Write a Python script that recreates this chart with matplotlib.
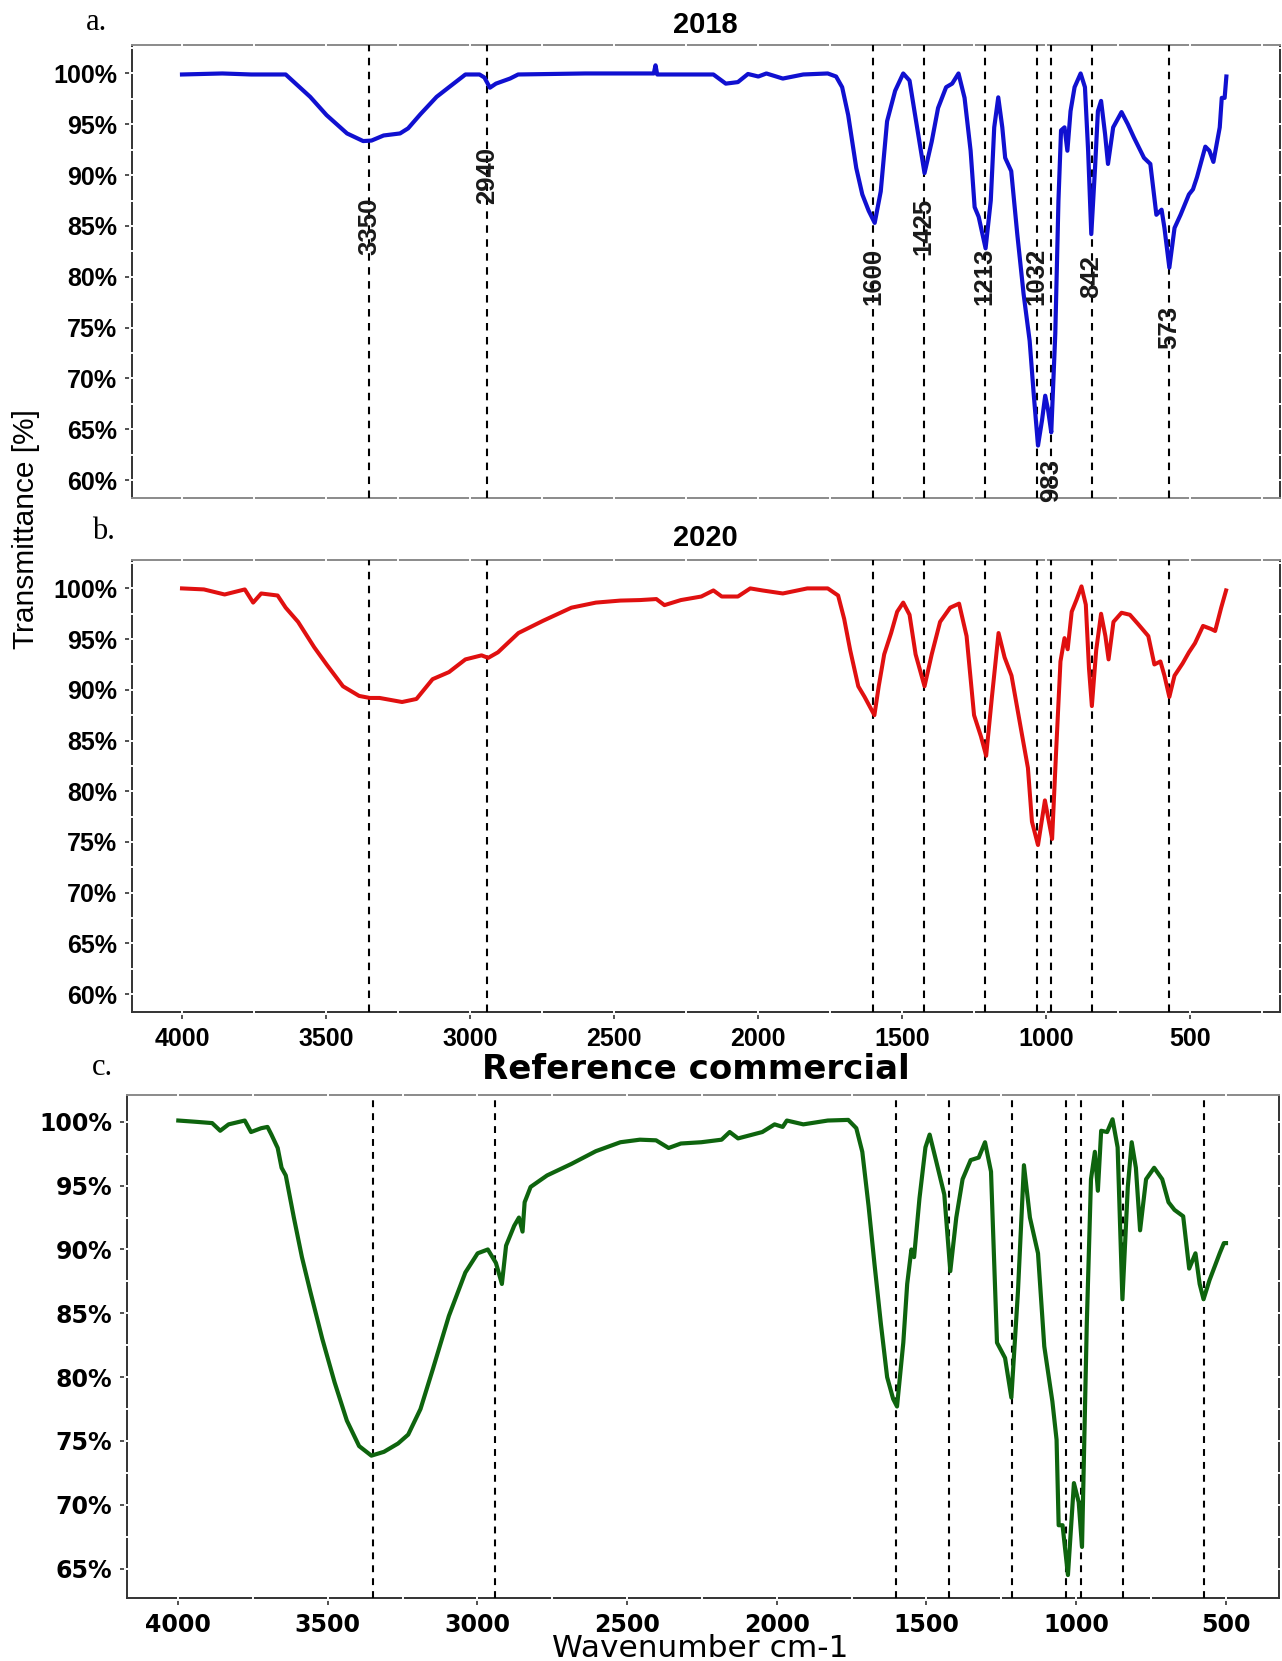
import matplotlib
matplotlib.use("Agg")
import matplotlib.pyplot as plt
from matplotlib.ticker import FixedLocator, FuncFormatter

# ---------------- data ----------------
peak_positions = [3350, 2940, 1600, 1425, 1213, 1032, 983, 842, 573]
peak_label_y = [85, 90, 80, 85, 80, 80, 60, 80, 75]
x_ticks = [4000, 3500, 3000, 2500, 2000, 1500, 1000, 500]
y_ticks_ab = [60, 65, 70, 75, 80, 85, 90, 95, 100]
y_ticks_c = [65, 70, 75, 80, 85, 90, 95, 100]

wn_2018 = [4000, 3860, 3760, 3640, 3555, 3498, 3427, 3371, 3342, 3300, 3243, 3215, 3172, 3116,
           3073, 3016, 2967, 2950, 2931, 2910, 2861, 2833, 2600, 2410, 2362, 2356, 2350, 2300,
           2155, 2112, 2070, 2035, 1999, 1971, 1914, 1843, 1758, 1729, 1708, 1687, 1673, 1659,
           1638, 1616, 1595, 1574, 1552, 1524, 1496, 1474, 1453, 1422, 1397, 1375, 1347, 1326,
           1304, 1283, 1262, 1248, 1234, 1210, 1192, 1180, 1166, 1152, 1142, 1121, 1100, 1078,
           1057, 1043, 1028, 1014, 1003, 993, 982, 968, 957, 948, 936, 926, 915, 901, 880, 865,
           854, 843, 830, 820, 809, 795, 785, 767, 738, 716, 695, 660, 638, 617, 599, 589, 572,
           554, 533, 504, 490, 476, 447, 433, 419, 397, 390, 380, 374]
t_2018 = [99.9, 100.0, 99.9, 99.9, 97.7, 95.9, 94.1, 93.35, 93.4, 93.9, 94.1, 94.6, 96.0, 97.7,
          98.65, 99.9, 99.9, 99.6, 98.6, 99.0, 99.5, 99.9, 100.0, 100.0, 100.0, 100.8, 99.9, 99.9,
          99.9, 99.0, 99.15, 99.95, 99.7, 100.0, 99.5, 99.9, 100.0, 99.7, 98.65, 95.9, 93.3, 90.7,
          88.1, 86.5, 85.3, 88.4, 95.3, 98.3, 100.0, 99.3, 95.6, 90.2, 93.3, 96.6, 98.65, 99.0,
          100.0, 97.6, 92.4, 86.85, 85.9, 82.8, 87.5, 94.7, 97.65, 94.7, 91.7, 90.4, 84.2, 78.3,
          73.7, 68.5, 63.4, 65.9, 68.3, 66.9, 64.7, 74.4, 87.5, 94.4, 94.7, 92.4, 96.3, 98.65, 100.0, 98.65,
          92.4, 84.2, 90.7, 96.3, 97.3, 94.0, 91.1, 94.7, 96.2, 95.0, 93.7, 91.7, 91.1, 86.1, 86.6, 84.8, 80.9,
          84.8, 86.1, 88.1, 88.6, 89.8, 92.8, 92.4, 91.3, 94.7, 97.6, 97.6, 99.7]

wn_2020 = [4000, 3924, 3852, 3817, 3782, 3753, 3725, 3668, 3640, 3597, 3541, 3498, 3441, 3385,
           3348, 3314, 3236, 3186, 3130, 3073, 3016, 2960, 2937, 2903, 2832, 2747, 2648, 2563,
           2478, 2410, 2353, 2325, 2268, 2197, 2155, 2126, 2070, 2027, 1985, 1914, 1829, 1758,
           1722, 1701, 1680, 1652, 1630, 1596, 1581, 1562, 1538, 1517, 1496, 1474, 1453, 1422,
           1397, 1368, 1333, 1302, 1276, 1250, 1226, 1208, 1188, 1165, 1144, 1120, 1085, 1063,
           1049, 1028, 1004, 979, 965, 950, 936, 925, 911, 894, 877, 862, 851, 841, 826, 809,
           794, 783, 766, 738, 709, 681, 645, 624, 603, 589, 572, 554, 526, 504, 483, 455, 427,
           413, 392, 375]
t_2020 = [100.0, 99.9, 99.4, 99.65, 99.9, 98.6, 99.5, 99.3, 98.1, 96.7, 94.2, 92.5, 90.35, 89.4,
          89.2, 89.2, 88.8, 89.1, 91.05, 91.75, 93.0, 93.4, 93.15, 93.7, 95.6, 96.8, 98.1, 98.6,
          98.8, 98.85, 98.95, 98.35, 98.85, 99.2, 99.8, 99.2, 99.2, 100.0, 99.8, 99.5, 100.0, 100.0,
          99.3, 97.0, 93.9, 90.35, 89.3, 87.5, 90.35, 93.5, 95.6, 97.7, 98.6, 97.4, 93.5, 90.35,
          93.5, 96.7, 98.1, 98.5, 95.3, 87.5, 85.4, 83.5, 89.3, 95.6, 93.2, 91.4, 85.8, 82.3,
          77.0, 74.7, 79.1, 75.3, 84.0, 92.8, 95.1, 94.0, 97.7, 98.9, 100.2, 98.4, 92.1, 88.4, 93.9, 97.5,
          95.3, 93.0, 96.7, 97.6, 97.4, 96.5, 95.3, 92.5, 92.8, 91.4, 89.3, 91.4, 92.6, 93.7, 94.6, 96.3, 96.0,
          95.8, 98.1, 99.8]

wn_ref = [3999, 3940, 3886, 3859, 3831, 3777, 3756, 3722, 3701, 3688, 3667, 3654, 3640, 3613,
          3586, 3558, 3518, 3477, 3436, 3395, 3354, 3312, 3265, 3231, 3190, 3149, 3095, 3040,
          2999, 2965, 2938, 2918, 2904, 2877, 2861, 2849, 2842, 2822, 2767, 2686, 2604, 2522,
          2457, 2403, 2361, 2320, 2252, 2184, 2157, 2129, 2048, 2007, 1980, 1966, 1911, 1829,
          1761, 1734, 1714, 1693, 1673, 1652, 1631, 1611, 1598, 1577, 1564, 1550, 1541, 1523,
          1503, 1489, 1468, 1440, 1420, 1400, 1379, 1352, 1325, 1304, 1284, 1264, 1237, 1216,
          1194, 1174, 1154, 1127, 1106, 1079, 1065, 1058, 1045, 1027, 1007, 991, 980, 964, 950,
          937, 927, 916, 896, 878, 861, 845, 827, 814, 800, 786, 766, 739, 712, 691, 671, 642,
          622, 601, 587, 574, 554, 520, 506, 499]
t_ref = [100.1, 100.0, 99.9, 99.3, 99.8, 100.1, 99.2, 99.5, 99.6, 99.0, 97.95, 96.4, 95.8, 92.5,
         89.4, 86.7, 83.0, 79.6, 76.6, 74.6, 73.85, 74.15, 74.8, 75.5, 77.5, 80.6, 84.8, 88.2,
         89.7, 90.0, 88.95, 87.3, 90.3, 91.85, 92.5, 91.4, 93.7, 94.9, 95.8, 96.7, 97.7, 98.4,
         98.6, 98.55, 97.95, 98.3, 98.4, 98.6, 99.2, 98.7, 99.2, 99.8, 99.6, 100.1, 99.8, 100.1,
         100.15, 99.5, 97.65, 93.4, 88.8, 84.2, 80.0, 78.3, 77.7, 82.7, 87.3, 90.0, 89.4, 94.0,
         98.0, 99.0, 97.0, 94.3, 88.3, 92.5, 95.5, 97.0, 97.2, 98.4, 96.1, 82.7, 81.5, 78.4,
         86.7, 96.6, 92.5, 89.7, 82.4, 78.1, 75.1, 68.4, 68.4, 64.5, 71.7, 70.2, 66.7, 84.2, 95.5,
         97.65, 94.6, 99.3, 99.2, 100.2, 98.0, 86.1, 94.9, 98.4, 96.4, 91.5, 95.5, 96.4, 95.5, 93.7, 93.1,
         92.6, 88.5, 89.7, 87.3, 86.1, 87.6, 89.7, 90.5, 90.5]

# ---------------- layout ----------------
W, H = 1282, 1661
fig = plt.figure(figsize=(W / 100, H / 100), dpi=100)
fig.patch.set_facecolor("white")


def box(l, t, r, b):
    return [l / W, 1 - b / H, (r - l) / W, (b - t) / H]


ax_a = fig.add_axes(box(132, 45, 1280, 498))
ax_b = fig.add_axes(box(132, 560, 1280, 1012))
ax_c = fig.add_axes(box(127, 1095, 1279, 1598))

pct = FuncFormatter(lambda v, _: f"{v:.0f}%")
SANS_AB = "Liberation Sans"
SANS_C = "DejaVu Sans"


def style(ax, xlim, ylim, yticks, font, fsize, show_x, bottom_col, dash):
    ax.set_xlim(*xlim)
    ax.set_ylim(*ylim)
    ax.xaxis.set_major_locator(FixedLocator(x_ticks))
    ax.yaxis.set_major_locator(FixedLocator(yticks))
    ax.yaxis.set_major_formatter(pct)
    for s in ["left", "right"]:
        ax.spines[s].set_color("#333333")
        ax.spines[s].set_linewidth(1.4)
    ax.spines["top"].set_color("#8a8a8a")
    ax.spines["top"].set_linewidth(1.4)
    ax.spines["bottom"].set_color(bottom_col)
    ax.spines["bottom"].set_linewidth(1.4)
    ax.tick_params(axis="y", direction="out", length=5, width=1.2, color="#333333",
                   pad=5.5, labelsize=fsize)
    if show_x:
        ax.tick_params(axis="x", direction="out", length=5, width=1.2, color="#333333",
                       pad=5.5, labelsize=fsize)
    else:
        ax.tick_params(axis="x", length=0, labelbottom=False)
    for lab in ax.get_yticklabels() + ax.get_xticklabels():
        lab.set_fontfamily(font)
        lab.set_fontweight("bold")
        lab.set_color("black")
    # white grid lines that break the panel border (as in the original)
    v = 250
    while v < xlim[0]:
        if v > xlim[1]:
            ax.axvline(v, ymin=-0.004, ymax=1.004, color="white", lw=1.4, zorder=2.6, clip_on=False)
        v += 250
    y = 2.5
    while y < ylim[1]:
        if y > ylim[0]:
            ax.axhline(y, xmin=-0.002, xmax=1.002, color="white", lw=1.4, zorder=2.6, clip_on=False)
        y += 2.5
    for p in peak_positions:
        ax.axvline(p, color="black", lw=1.5, linestyle=dash, zorder=2.8)


style(ax_a, (4173.6, 187.8), (58.24, 102.8), y_ticks_ab, SANS_AB, 18, False, "#8a8a8a", (0, (3.6, 3.1)))
style(ax_b, (4173.6, 187.8), (58.24, 102.8), y_ticks_ab, SANS_AB, 18, True, "#333333", (0, (3.6, 3.1)))
style(ax_c, (4170.4, 321.9), (62.7, 102.1), y_ticks_c, SANS_C, 17, True, "#333333", (0, (3.3, 2.9)))

ax_a.plot(wn_2018, t_2018, color="#1010D0", lw=3.0, zorder=3, solid_joinstyle="round")
ax_b.plot(wn_2020, t_2020, color="#E01010", lw=2.9, zorder=3, solid_joinstyle="round")
ax_c.plot(wn_ref, t_ref, color="#0E640E", lw=3.0, zorder=3, solid_joinstyle="round")

for p, ly in zip(peak_positions, peak_label_y):
    ax_a.text(p, ly, str(p), rotation=90, ha="center", va="center", fontsize=18.5,
              fontfamily=SANS_AB, fontweight="bold", color="#1a1a1a", zorder=4, clip_on=False)

# titles and panel letters
fig.text(705 / W, 1 - 33 / H, "2018", ha="center", va="baseline", fontsize=21,
         fontfamily=SANS_AB, fontweight="bold")
fig.text(705 / W, 1 - 546 / H, "2020", ha="center", va="baseline", fontsize=21,
         fontfamily=SANS_AB, fontweight="bold")
fig.text(696 / W, 1 - 1079 / H, "Reference commercial", ha="center", va="baseline",
         fontsize=24.5, fontfamily=SANS_C, fontweight="bold")
fig.text(700 / W, 1 - 1657 / H, "Wavenumber cm-1", ha="center", va="baseline",
         fontsize=22.5, fontfamily=SANS_C)
fig.text(26 / W, 1 - 529 / H, "Transmittance [%]", rotation=90, ha="center", va="center",
         fontsize=21.5, fontfamily=SANS_AB)
for lx, ly, s in [(86, 30, "a."), (92, 539, "b."), (92, 1075, "c.")]:
    fig.text(lx / W, 1 - ly / H, s, ha="left", va="baseline", fontsize=22,
             fontfamily="Liberation Serif")

fig.savefig("out.png", dpi=100, facecolor="white")
